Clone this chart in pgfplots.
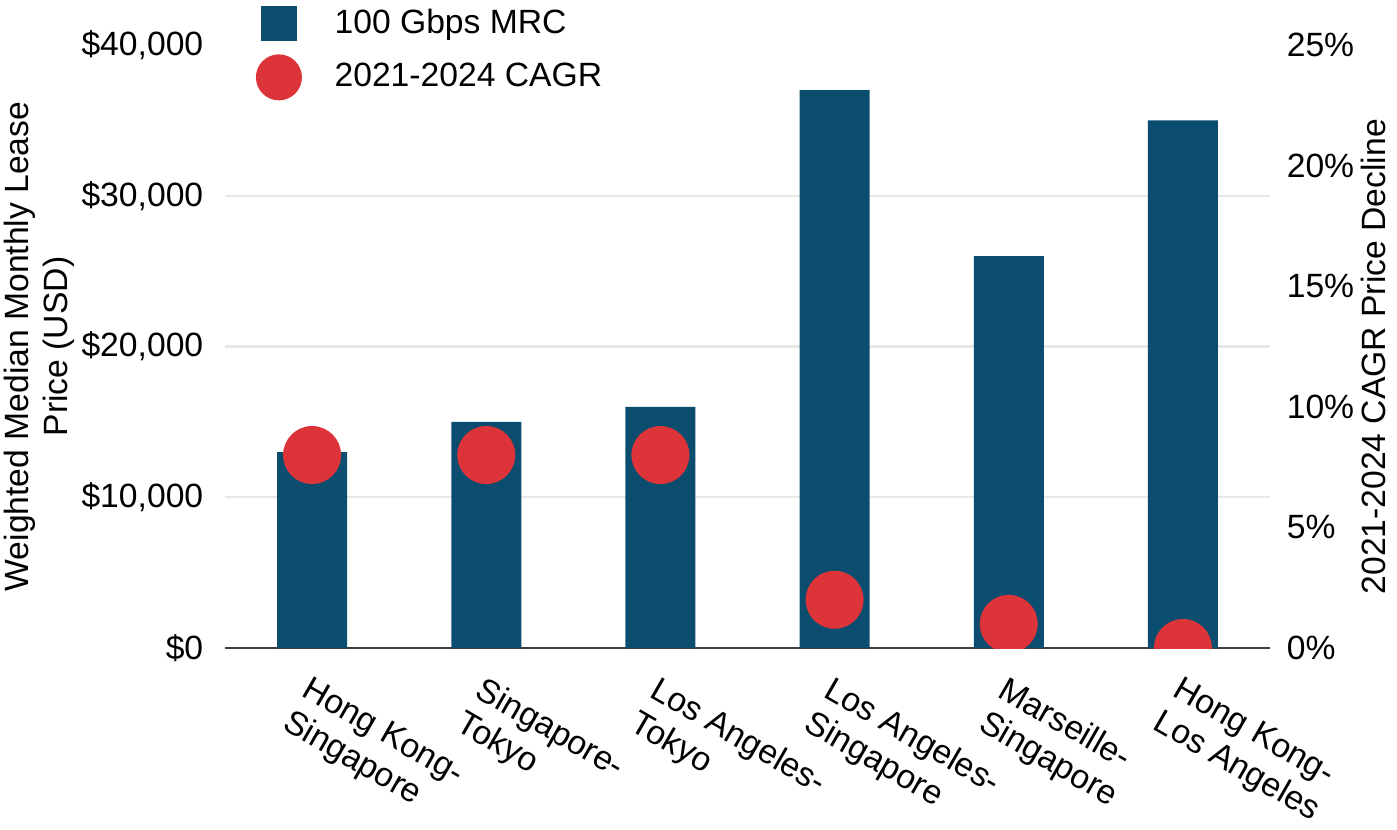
\documentclass[border=0pt]{standalone}
\usepackage{fontspec}
\setmainfont{Liberation Sans}
\usepackage{pgfplots}
\pgfplotsset{compat=1.18}

\definecolor{barblue}{RGB}{11,77,110}
\definecolor{dotred}{RGB}{221,52,58}
\definecolor{gridgray}{RGB}{232,232,232}
\definecolor{zeroline}{RGB}{64,64,64}

% route, monthly lease price (USD), 2021-2024 CAGR price decline (%)
\pgfplotstableread{
x price cagr
0 13000 8
1 15000 8
2 16000 8
3 37000 2
4 26000 1
5 35000 0
}\routes

\begin{document}
\begin{tikzpicture}[x=1pt,y=1pt]
\path[use as bounding box] (0,0) rectangle (419.1,248.7);
\pgfplotsset{
  every axis/.append style={
    font=\fontsize{10.1}{11.6}\selectfont,
    at={(67.5pt,54.3pt)}, anchor=south west,
    scale only axis, width=313.5pt, height=180.9pt,
    xmin=-0.5, xmax=5.5, enlargelimits=false,
    major tick length=0pt,
  },
}

% left axis: price bars
\begin{axis}[
  ymin=0, ymax=40000,
  scaled y ticks=false,
  ytick={0,10000,20000,30000,40000},
  yticklabels={{\$0},{\$10,000},{\$20,000},{\$30,000},{\$40,000}},
  yticklabel style={xshift=-3pt},
  extra y ticks={10000,20000,30000},
  extra y tick labels={},
  extra y tick style={grid=major, major grid style={draw=gridgray, line width=0.7pt}},
  xtick={0,1,2,3,4,5},
  xticklabels={{Hong Kong-\\Singapore},{Singapore-\\Tokyo},{Los Angeles-\\Tokyo},{Los Angeles-\\Singapore},{Marseille-\\Singapore},{Hong Kong-\\Los Angeles}},
  xticklabel style={rotate=-30, anchor=north west, align=left, yshift=-3.5pt, xshift=0.5pt},
  axis x line*=bottom, axis y line*=left,
  x axis line style={draw=zeroline, line width=0.7pt, -},
  y axis line style={draw=none},
  ylabel={Weighted Median Monthly Lease\\Price (USD)},
  ylabel style={align=center, at={(axis description cs:-0.178,0.5)}, anchor=center},
  ybar, bar width=21pt,
]
\addplot[fill=barblue, draw=none] table[x=x, y=price] {\routes};
\end{axis}

% right axis: CAGR dots
\begin{axis}[
  ymin=0, ymax=25,
  ytick={0,5,10,15,20,25},
  yticklabels={0\%,5\%,10\%,15\%,20\%,25\%},
  yticklabel style={xshift=1.5pt},
  xtick=\empty,
  axis y line*=right, axis x line=none,
  y axis line style={draw=none},
  ylabel={2021-2024 CAGR Price Decline},
  ylabel style={at={(axis description cs:1.099,0.483)}, anchor=center},
  clip marker paths=true,
  legend style={at={(axis description cs:0.02,1.083)}, anchor=north west,
    draw=none, fill=none, row sep=3pt},
  legend cell align=left,
]
\addlegendimage{only marks, mark=square*, mark size=5.1pt, color=barblue}
\addlegendentry{\hspace{8pt}100 Gbps MRC}
\addlegendimage{only marks, mark=*, mark size=6.7pt, color=dotred}
\addlegendentry{\hspace{8pt}2021-2024 CAGR}
\addplot[only marks, mark=*, mark size=8.5pt, color=dotred, forget plot]
  table[x=x, y=cagr] {\routes};
\end{axis}
\end{tikzpicture}
\end{document}
